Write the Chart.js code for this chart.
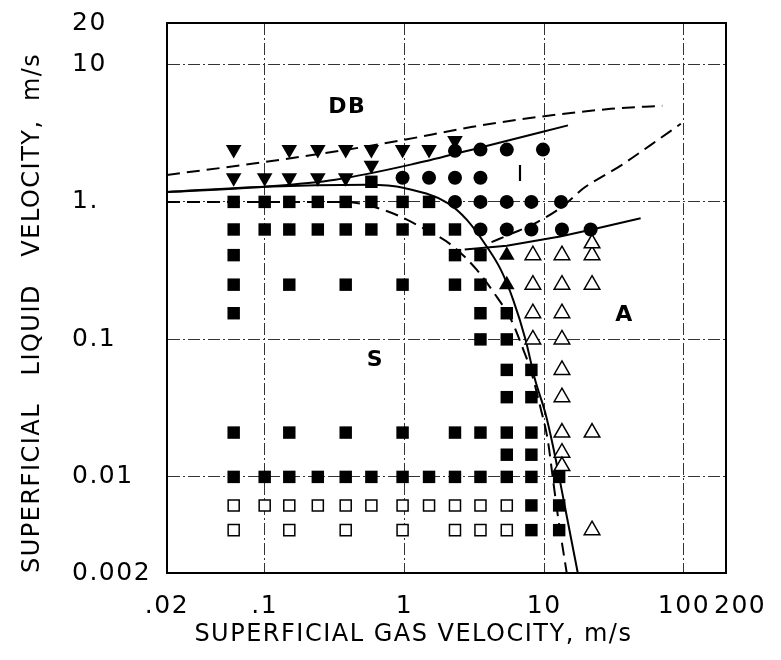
<!DOCTYPE html>
<html>
<head>
<meta charset="utf-8">
<script src="https://cdn.jsdelivr.net/npm/chart.js@4.4.1/dist/chart.umd.min.js"></script>
<style>
  html, body { margin: 0; padding: 0; background: #fff; }
  canvas { display: block; }
</style>
</head>
<body>
<canvas id="flowMap" width="781" height="660"></canvas>
<script>
// axis ticks
const xTickValues = [0.02, 0.1, 1, 10, 100, 200];
const xTickLabels = ['.02', '.1', '1', '10', '100', '   200'];
const yTickValues = [0.002, 0.01, 0.1, 1, 10, 20];
const yTickLabels = ['0.002', '0.01', '0.1', '1.', '10', '20'];

// observed points [gas velocity, liquid velocity]
const slugFilled = [
    [0.58, 1.4],
    [0.06, 1.0], [0.1, 1.0], [0.15, 1.0], [0.24, 1.0], [0.38, 1.0], [0.58, 1.0], [0.97, 1.0], [1.5, 1.0],
    [0.06, 0.63], [0.1, 0.63], [0.15, 0.63], [0.24, 0.63], [0.38, 0.63], [0.58, 0.63], [0.97, 0.63], [1.5, 0.63], [2.3, 0.63],
    [0.06, 0.41], [2.3, 0.41], [3.5, 0.41],
    [0.06, 0.25], [0.15, 0.25], [0.38, 0.25], [0.97, 0.25], [2.3, 0.25], [3.5, 0.25],
    [0.06, 0.155], [3.5, 0.155], [5.4, 0.155],
    [3.5, 0.1], [5.4, 0.1],
    [5.4, 0.06], [8.1, 0.06],
    [5.4, 0.038], [8.1, 0.038],
    [0.06, 0.021], [0.15, 0.021], [0.38, 0.021], [0.97, 0.021], [2.3, 0.021], [3.5, 0.021], [5.4, 0.021], [8.1, 0.021],
    [5.4, 0.0145], [8.1, 0.0145],
    [0.06, 0.01], [0.1, 0.01], [0.15, 0.01], [0.24, 0.01], [0.38, 0.01], [0.58, 0.01], [0.97, 0.01],
    [1.5, 0.01], [2.3, 0.01], [3.5, 0.01], [5.4, 0.01], [8.1, 0.01], [12.8, 0.01],
    [8.1, 0.0062], [12.8, 0.0062],
    [8.1, 0.0041], [12.8, 0.0041]
];
const slugOpen = [
    [0.06, 0.0062], [0.1, 0.0062], [0.15, 0.0062], [0.24, 0.0062], [0.38, 0.0062], [0.58, 0.0062],
    [0.97, 0.0062], [1.5, 0.0062], [2.3, 0.0062], [3.5, 0.0062], [5.4, 0.0062],
    [0.06, 0.0041], [0.15, 0.0041], [0.38, 0.0041], [0.97, 0.0041], [2.3, 0.0041], [3.5, 0.0041], [5.4, 0.0041]
];
const intermittent = [
    [2.3, 2.35], [3.5, 2.4], [5.4, 2.4], [9.8, 2.4],
    [0.97, 1.5], [1.5, 1.5], [2.3, 1.5], [3.5, 1.5],
    [2.3, 1.0], [3.5, 1.0], [5.4, 1.0], [8.1, 1.0], [13.2, 1.0],
    [3.5, 0.63], [5.4, 0.63], [8.1, 0.63], [13.4, 0.63], [21.5, 0.63]
];
const dispersedBubble = [
    [0.06, 2.4], [0.15, 2.4], [0.24, 2.4], [0.38, 2.4], [0.58, 2.4], [0.97, 2.4], [1.5, 2.4], [2.3, 2.8],
    [0.06, 1.5], [0.1, 1.5], [0.15, 1.5], [0.24, 1.5], [0.38, 1.5], [0.58, 1.85]
];
const annularFilled = [[5.4, 0.41], [5.4, 0.25]];
const annularOpen = [
    [8.3, 0.41], [13.4, 0.41], [22, 0.41], [22, 0.5],
    [8.3, 0.25], [13.4, 0.25], [22, 0.25],
    [8.3, 0.155], [13.4, 0.155],
    [8.3, 0.1], [13.4, 0.1],
    [13.4, 0.06], [13.4, 0.038],
    [13.4, 0.021], [22, 0.021],
    [13.4, 0.015], [13.4, 0.012],
    [22, 0.0041]
];

// transition boundaries
const dbDashX = [0.02, 0.1, 0.5, 1, 3, 10, 30, 70];
const dbDashY = [1.57, 1.95, 2.5, 2.83, 3.5, 4.2, 4.75, 5.0];
const dbSolidX = [0.02, 0.1, 0.32, 1.2, 3.5, 14.8];
const dbSolidY = [1.18, 1.29, 1.45, 1.9, 2.49, 3.6];
const slugSolidX = [0.02, 0.1, 0.55, 1.0, 2.04, 2.8, 3.9, 4.9, 6.0, 7.35, 8.6, 10.2, 11.6, 12.8, 14.6, 17.4];
const slugSolidY = [1.18, 1.29, 1.33, 1.26, 0.98, 0.74, 0.47, 0.32, 0.194, 0.1, 0.051, 0.029, 0.0165, 0.01, 0.005, 0.002];
const slugDashX = [0.02, 0.36, 0.72, 1.46, 2.2, 3.3, 4.4, 5.8, 7.1, 8.0, 9.4, 10.6, 11.5, 12.6, 14.5];
const slugDashY = [1.0, 1.0, 0.87, 0.62, 0.48, 0.32, 0.216, 0.139, 0.084, 0.06, 0.032, 0.0186, 0.01, 0.005, 0.002];
const annSolidX = [2.7, 5.4, 13, 22, 49];
const annSolidY = [0.45, 0.48, 0.56, 0.63, 0.76];
const annDashX = [4.2, 5.9, 8.4, 13.6, 19, 36, 58, 95];
const annDashY = [0.51, 0.59, 0.69, 0.93, 1.25, 1.86, 2.6, 3.7];

// regime names
const regionLabels = [
    { text: 'DB', x: 0.39, y: 4.9, bold: true },
    { text: 'I', x: 6.8, y: 1.57, bold: false },
    { text: 'S', x: 0.62, y: 0.071, bold: true },
    { text: 'A', x: 37.6, y: 0.15, bold: true }
];

const FONT = 'DejaVu Sans';
const toPts = arr => arr.map(p => ({ x: p[0], y: p[1] }));
const toCurve = (xs, ys) => xs.map((x, i) => ({ x: x, y: ys[i] }));

function marker(data, style, radius, fill, extra) {
    return Object.assign({
        data: toPts(data),
        pointStyle: style,
        pointRadius: radius,
        pointHoverRadius: radius,
        pointBackgroundColor: fill,
        pointBorderColor: '#000',
        pointBorderWidth: 0,
        showLine: false
    }, extra || {});
}

function boundary(xs, ys, dashed, smooth) {
    return {
        data: toCurve(xs, ys),
        showLine: true,
        pointRadius: 0,
        pointHoverRadius: 0,
        borderColor: '#000',
        borderWidth: 2,
        borderDash: dashed ? [13, 7] : [],
        cubicInterpolationMode: smooth ? 'monotone' : 'default',
        tension: smooth ? 0.4 : 0
    };
}

const frame = {
    id: 'frame',
    beforeDraw(chart) {
        chart.ctx.letterSpacing = '1.5px';
    },
    afterDatasetsDraw(chart) {
        const c = chart.ctx;
        const xs = chart.scales.x, ys = chart.scales.y;
        c.save();
        c.fillStyle = '#000';
        c.textAlign = 'center';
        c.textBaseline = 'middle';
        regionLabels.forEach(l => {
            c.font = (l.bold ? 'bold ' : '') + '22px "' + FONT + '"';
            c.fillText(l.text, xs.getPixelForValue(l.x), ys.getPixelForValue(l.y));
        });
        c.restore();
    },
    afterDraw(chart) {
        const a = chart.chartArea;
        const c = chart.ctx;
        c.save();
        c.strokeStyle = '#000';
        c.lineWidth = 2;
        c.setLineDash([]);
        c.strokeRect(a.left, a.top, a.right - a.left, a.bottom - a.top);
        c.restore();
    }
};

const gridStyle = {
    color: '#333',
    lineWidth: 1,
    drawTicks: false
};

new Chart(document.getElementById('flowMap'), {
    type: 'scatter',
    data: {
        datasets: [
            marker(slugFilled, 'rect', 8.8, '#000'),
            marker(slugOpen, 'rect', 7.8, '#fff', { pointBorderWidth: 1.5 }),
            marker(intermittent, 'circle', 7, '#000'),
            marker(dispersedBubble, 'triangle', 9, '#000', { pointRotation: 180 }),
            marker(annularFilled, 'triangle', 9, '#000'),
            marker(annularOpen, 'triangle', 9, '#fff', { pointBorderWidth: 1.5 }),
            boundary(dbDashX, dbDashY, true, true),
            boundary(dbSolidX, dbSolidY, false, true),
            boundary(slugSolidX, slugSolidY, false, true),
            boundary(slugDashX, slugDashY, true, true),
            boundary(annSolidX, annSolidY, false, false),
            boundary(annDashX, annDashY, true, true)
        ]
    },
    options: {
        responsive: false,
        animation: false,
        layout: { padding: { top: 23, right: 55, left: 0, bottom: 0 } },
        plugins: { legend: { display: false }, tooltip: { enabled: false } },
        scales: {
            x: {
                type: 'logarithmic',
                position: 'bottom',
                min: 0.02,
                max: 200,
                afterBuildTicks: s => { s.ticks = xTickValues.map(v => ({ value: v })); },
                afterFit: s => { s.height = 87; },
                ticks: {
                    autoSkip: false,
                    maxRotation: 0,
                    padding: 18,
                    color: '#000',
                    font: { family: FONT, size: 25 },
                    callback: (v, i) => xTickLabels[i]
                },
                grid: gridStyle,
                border: { color: '#000', width: 2, dash: [12, 3, 2, 3] },
                title: {
                    display: true,
                    text: '   SUPERFICIAL GAS VELOCITY, m/s',
                    align: 'start',
                    color: '#000',
                    font: { family: FONT, size: 24 },
                    padding: { top: 0, bottom: 11 }
                }
            },
            y: {
                type: 'logarithmic',
                position: 'left',
                weight: 0,
                min: 0.002,
                max: 20,
                afterBuildTicks: s => { s.ticks = yTickValues.map(v => ({ value: v })); },
                afterFit: s => { s.width = 95; },
                ticks: {
                    autoSkip: false,
                    crossAlign: 'far',
                    color: '#000',
                    font: { family: FONT, size: 25 },
                    callback: (v, i) => yTickLabels[i]
                },
                grid: gridStyle,
                border: { color: '#000', width: 2, dash: [12, 3, 2, 3] }
            },
            yTitle: {
                type: 'linear',
                position: 'left',
                weight: 1,
                display: true,
                afterFit: s => { s.width = 72; },
                ticks: { display: false },
                grid: { display: false },
                border: { display: false },
                title: {
                    display: true,
                    text: 'SUPERFICIAL   LIQUID   VELOCITY,  m/s',
                    align: 'start',
                    color: '#000',
                    font: { family: FONT, size: 24 },
                    padding: { top: 18, bottom: 0 }
                }
            }
        }
    },
    plugins: [frame]
});
</script>
</body>
</html>
